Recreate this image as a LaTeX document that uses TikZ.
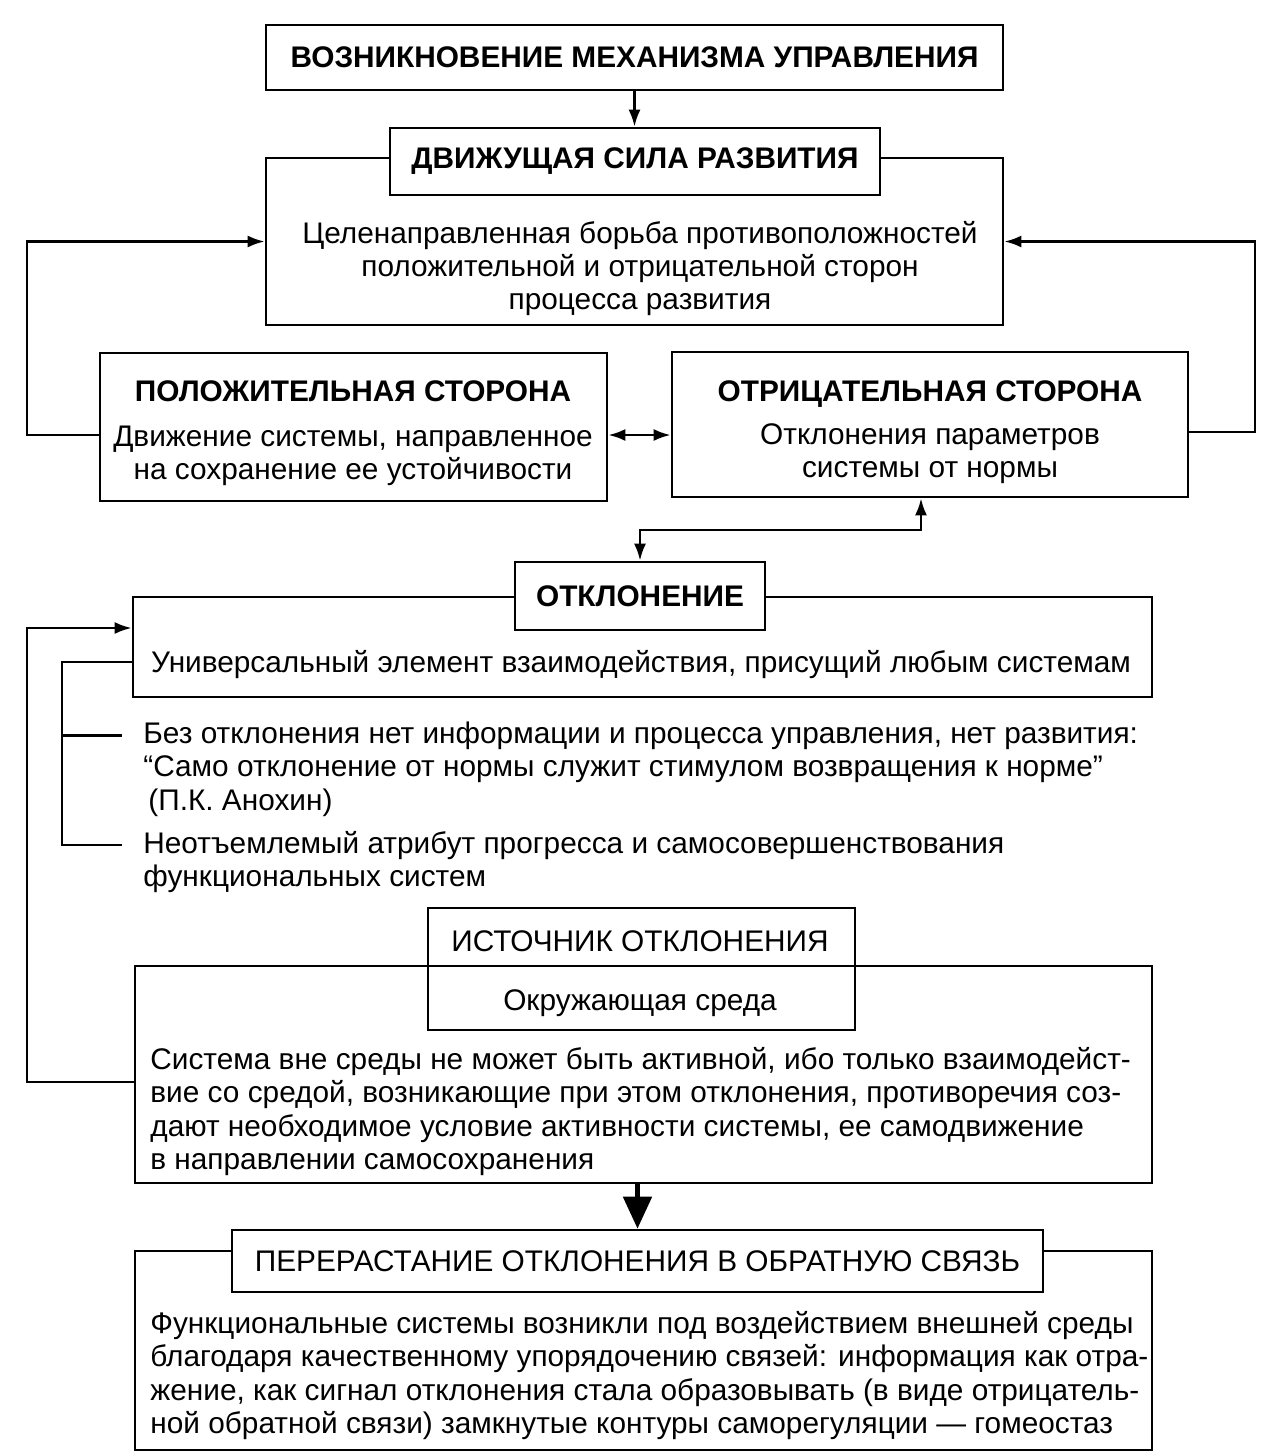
\documentclass[tikz,border=0pt]{standalone}
\usepackage{fontspec}
\setmainfont{Liberation Sans}
\usetikzlibrary{arrows.meta}
\newcommand*{\BoxFont}{\fontsize{14.9pt}{16.5pt}\selectfont}

\begin{document}
\begin{tikzpicture}[x=0.5pt, y=-0.5pt, font=\BoxFont,
    frame/.style={draw, line width=1.3pt, inner sep=0pt},
    head/.style={frame, fill=white},
    bold/.style={font=\BoxFont\bfseries},
    line/.style={inner sep=0pt, anchor=base},
    lline/.style={inner sep=0pt, anchor=base west},
    arr/.style={-{Latex[length=8.5pt,width=6pt]}, line width=1.3pt},
    dblarr/.style={{Latex[length=8.5pt,width=6pt]}-{Latex[length=8.5pt,width=6pt]}, line width=1.3pt},
    fatarr/.style={-{Triangle[length=16pt,width=14pt]}, line width=2.5pt}]
  \useasboundingbox (0,0) rectangle (1271,1456);

  % top
  \node[frame, bold, minimum width=368.5pt, minimum height=32.5pt] (origin) at (634.5,57.5) {ВОЗНИКНОВЕНИЕ МЕХАНИЗМА УПРАВЛЕНИЯ};
  \node[frame, minimum width=368.5pt, minimum height=83.5pt] (forcebox) at (634.5,241.5) {};
  \node[head, bold, minimum width=245pt, minimum height=33.5pt] (forcehead) at (635,161.5) {ДВИЖУЩАЯ СИЛА РАЗВИТИЯ};
  \foreach \t [count=\i] in {Целенаправленная борьба противоположностей, положительной и отрицательной сторон, процесса развития}{
    \node[line] (force\i) at (640,210+33*\i) {\t};
  }

  % two sides
  \node[frame, minimum width=253.5pt, minimum height=74pt] (posbox) at (353.5,427) {};
  \node[line, bold] (postitle) at (353,401) {ПОЛОЖИТЕЛЬНАЯ СТОРОНА};
  \foreach \t [count=\i] in {{Движение системы, направленное}, на сохранение ее устойчивости}{
    \node[line] (pos\i) at (353,413+33*\i) {\t};
  }
  \node[frame, minimum width=258pt, minimum height=72.5pt] (negbox) at (930,424.5) {};
  \node[line, bold] (negtitle) at (930,401) {ОТРИЦАТЕЛЬНАЯ СТОРОНА};
  \foreach \t [count=\i] in {Отклонения параметров, системы от нормы}{
    \node[line] (neg\i) at (930,411+33*\i) {\t};
  }

  % deviation
  \node[frame, minimum width=509.5pt, minimum height=50pt] (devbox) at (642.5,647) {};
  \node[head, bold, minimum width=125pt, minimum height=34pt] (devhead) at (640,596) {ОТКЛОНЕНИЕ};
  \node[line] (devtext) at (641,672) {Универсальный элемент взаимодействия, присущий любым системам};
  \node[lline] (note1) at (143,743) {Без отклонения нет информации и процесса управления, нет развития:};
  \node[lline] (note2) at (143,776) {“Само отклонение от нормы служит стимулом возвращения к норме”};
  \node[lline] (note3) at (148,810) {(П.К. Анохин)};
  \node[lline] (note4) at (143,853) {Неотъемлемый атрибут прогресса и самосовершенствования};
  \node[lline] (note5) at (143,886) {функциональных систем};

  % source
  \node[frame, minimum width=508.5pt, minimum height=108.5pt] (envbox) at (643.5,1074.5) {};
  \node[frame, minimum width=213.5pt, minimum height=61pt] (srcbox) at (641.5,969) {};
  \node[line] (srctitle) at (640,951) {ИСТОЧНИК ОТКЛОНЕНИЯ};
  \node[line] (srctext) at (640,1010) {Окружающая среда};
  \foreach \t [count=\i] in {{Система вне среды не может быть активной, ибо только взаимодейст-}, {вие со средой, возникающие при этом отклонения, противоречия соз-}, {дают необходимое условие активности системы, ее самодвижение}, в направлении самосохранения}{
    \node[lline] (env\i) at (150,1035.5+33.5*\i) {\t};
  }

  % feedback
  \node[frame, minimum width=508.5pt, minimum height=99.5pt] (fbbox) at (643.5,1350.5) {};
  \node[head, minimum width=405.5pt, minimum height=31pt] (fbhead) at (637.5,1261) {ПЕРЕРАСТАНИЕ ОТКЛОНЕНИЯ В ОБРАТНУЮ СВЯЗЬ};
  \foreach \t [count=\i] in {Функциональные системы возникли под воздействием внешней среды, {благодаря качественному упорядочению связей: информация как отра-}, {жение, как сигнал отклонения стала образовывать (в виде отрицатель-}, ной обратной связи) замкнутые контуры саморегуляции — гомеостаз}{
    \node[lline] (fb\i) at (150,1299.5+33.5*\i) {\t};
  }

  % connectors
  \coordinate (lturn) at (27,435);
  \coordinate (rturn) at (1255,432);
  \coordinate (dturn) at (921,530);
  \coordinate (tturn) at (27,628);
  \coordinate (bturn) at (27,1082);
  \coordinate (brace) at (62,662);
  \draw[arr] (origin.south) -- (origin.south |- forcehead.north);
  \draw[arr] (posbox.west |- lturn) -- (lturn) |- (forcebox.west);
  \draw[arr] (negbox.east |- rturn) -- (rturn) |- (forcebox.east);
  \draw[dblarr] (posbox.east |- lturn) -- (negbox.west |- lturn);
  \draw[dblarr] (devhead.north) |- (dturn) -- (dturn |- negbox.south);
  \draw[arr] (envbox.west |- bturn) -- (bturn) -- (tturn) -- (devbox.west |- tturn);
  \draw[line width=1.2pt] (devbox.west |- brace) -- (brace) |- ([xshift=-10.5pt]note4.west);
  \draw[line width=1.2pt] (brace |- note1.west) -- ([xshift=-10.5pt]note1.west);
  \draw[fatarr] (envbox.south -| fbhead.north) -- (fbhead.north);
\end{tikzpicture}
\end{document}
